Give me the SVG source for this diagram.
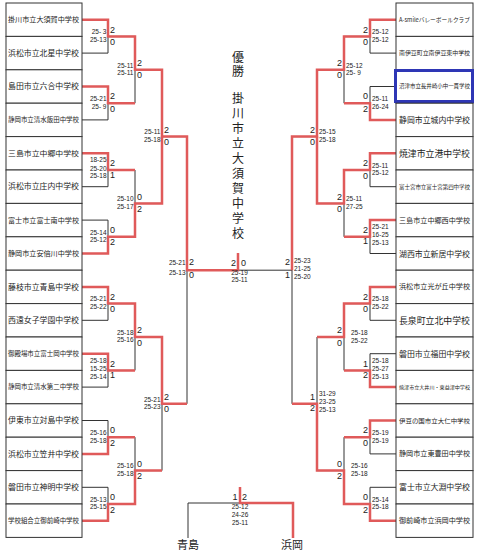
<svg xmlns="http://www.w3.org/2000/svg" width="480" height="554" viewBox="0 0 480 554">
<style>
.box{fill:#fff;stroke:#333;stroke-width:1}
.bl{fill:none;stroke:#333;stroke-width:1}
.rd{fill:none;stroke:#e05a5a;stroke-width:2.5;stroke-linejoin:miter}
.nm{font-family:"Noto Sans CJK JP",sans-serif;fill:#222}
.sc{font-family:"Liberation Sans",sans-serif;font-size:6.5px;fill:#222}
.scr{font-family:"Liberation Sans",sans-serif;font-size:6.5px;fill:#222;text-anchor:end}
.dg{font-family:"Liberation Sans",sans-serif;font-size:9px;fill:#222}
.dgr{font-family:"Liberation Sans",sans-serif;font-size:9px;fill:#222;text-anchor:end}
.ttl{font-family:"Noto Sans CJK JP",sans-serif;font-size:12px;fill:#222;writing-mode:vertical-rl;text-anchor:start}
.lab{font-family:"Noto Sans CJK JP",sans-serif;font-size:11px;fill:#222;text-anchor:middle}
.mid{text-anchor:middle}
</style>
<rect width="480" height="554" fill="#fff"/>
<g id="connectors">
<path class="bl" d="M82,19.7H108V53.1H82M82,86.5H108V119.9H82M82,153.3H108V186.7H82M82,220.1H108V253.5H82M82,286.9H108V320.3H82M82,353.7H108V387.1H82M82,420.5H108V453.9H82M82,487.3H108V520.7H82"/>
<path class="bl" d="M108,36.4H135V103.2H108M108,170H135V236.8H108M108,303.6H135V370.4H108M108,437.2H135V504H108"/>
<path class="bl" d="M135,69.8H162V203.4H135M135,337H162V470.6H135M162,136.6H187V403.8H162M187,270.2H292"/>
<path class="bl" d="M396,19.7H370V53.1H396M396,86.5H370V119.9H396M396,153.3H370V186.7H396M396,220.1H370V253.5H396M396,286.9H370V320.3H396M396,353.7H370V387.1H396M396,420.5H370V453.9H396M396,487.3H370V520.7H396"/>
<path class="bl" d="M370,36.4H344V103.2H370M370,170H344V236.8H370M370,303.6H344V370.4H370M370,437.2H344V504H370"/>
<path class="bl" d="M344,69.8H317V203.4H344M344,337H317V470.6H344M317,136.6H292V403.8H317"/>
<path class="bl" d="M188,538V503H293V538"/>
<path class="rd" d="M82,19.7H108V36.4H135V69.8H162V136.6H187V270.2H238V253"/>
<path class="rd" d="M82,86.5H108V103.2H135"/>
<path class="rd" d="M82,153.3H108V170H135"/>
<path class="rd" d="M82,253.5H108V236.8H135V203.4H162V136.6"/>
<path class="rd" d="M82,286.9H108V303.6H135V337H162V403.8H187"/>
<path class="rd" d="M82,353.7H108V370.4H135"/>
<path class="rd" d="M82,453.9H108V437.2H135"/>
<path class="rd" d="M82,520.7H108V504H135V470.6H162"/>
<path class="rd" d="M396,19.7H370V36.4H344V69.8H317V136.6H292V270.2"/>
<path class="rd" d="M396,119.9H370V103.2H344"/>
<path class="rd" d="M396,153.3H370V170H344V203.4H317V136.6"/>
<path class="rd" d="M396,220.1H370V236.8H344"/>
<path class="rd" d="M396,286.9H370V303.6H344V337H317"/>
<path class="rd" d="M396,387.1H370V370.4H344"/>
<path class="rd" d="M396,420.5H370V437.2H344"/>
<path class="rd" d="M396,520.7H370V504H344V470.6H317V403.8H292"/>
<path class="rd" d="M240,487V503H293V538"/>
</g>
<g id="title">
<text class="ttl" x="238" y="51" letter-spacing="2">優勝</text>
<text class="ttl" x="238" y="92" letter-spacing="3">掛川市立大須賀中学校</text>
</g>
<g id="left-teams">
<g id="L1"><rect class="box" x="6" y="3" width="76" height="33.4"/><text class="nm" x="8" y="22.2" font-size="7" textLength="71" lengthAdjust="spacingAndGlyphs">掛川市立大須賀中学校</text></g>
<g id="L2"><rect class="box" x="6" y="36.4" width="76" height="33.4"/><text class="nm" x="8" y="55.8" font-size="7.5" textLength="71" lengthAdjust="spacingAndGlyphs">浜松市立北星中学校</text></g>
<g id="L3"><rect class="box" x="6" y="69.8" width="76" height="33.4"/><text class="nm" x="8" y="89.2" font-size="7.5" textLength="71" lengthAdjust="spacingAndGlyphs">島田市立六合中学校</text></g>
<g id="L4"><rect class="box" x="6" y="103.2" width="76" height="33.4"/><text class="nm" x="8" y="122.2" font-size="6.3" textLength="71" lengthAdjust="spacingAndGlyphs">静岡市立清水飯田中学校</text></g>
<g id="L5"><rect class="box" x="6" y="136.6" width="76" height="33.4"/><text class="nm" x="8" y="155.9" font-size="7.2" textLength="71" lengthAdjust="spacingAndGlyphs">三島市立中郷中学校</text></g>
<g id="L6"><rect class="box" x="6" y="170" width="76" height="33.4"/><text class="nm" x="8" y="189.4" font-size="7.5" textLength="71" lengthAdjust="spacingAndGlyphs">浜松市立庄内中学校</text></g>
<g id="L7"><rect class="box" x="6" y="203.4" width="76" height="33.4"/><text class="nm" x="8" y="222.6" font-size="6.8" textLength="71" lengthAdjust="spacingAndGlyphs">富士市立富士南中学校</text></g>
<g id="L8"><rect class="box" x="6" y="236.8" width="76" height="33.4"/><text class="nm" x="8" y="256" font-size="7" textLength="71" lengthAdjust="spacingAndGlyphs">静岡市立安倍川中学校</text></g>
<g id="L9"><rect class="box" x="6" y="270.2" width="76" height="33.4"/><text class="nm" x="8" y="289.6" font-size="7.5" textLength="71" lengthAdjust="spacingAndGlyphs">藤枝市立青島中学校</text></g>
<g id="L10"><rect class="box" x="6" y="303.6" width="76" height="33.4"/><text class="nm" x="8" y="323.2" font-size="8" textLength="71" lengthAdjust="spacingAndGlyphs">西遠女子学園中学校</text></g>
<g id="L11"><rect class="box" x="6" y="337" width="76" height="33.4"/><text class="nm" x="8" y="356" font-size="6.3" textLength="71" lengthAdjust="spacingAndGlyphs">御殿場市立富士岡中学校</text></g>
<g id="L12"><rect class="box" x="6" y="370.4" width="76" height="33.4"/><text class="nm" x="8" y="389.4" font-size="6.3" textLength="71" lengthAdjust="spacingAndGlyphs">静岡市立清水第二中学校</text></g>
<g id="L13"><rect class="box" x="6" y="403.8" width="76" height="33.4"/><text class="nm" x="8" y="423.2" font-size="7.5" textLength="71" lengthAdjust="spacingAndGlyphs">伊東市立対島中学校</text></g>
<g id="L14"><rect class="box" x="6" y="437.2" width="76" height="33.4"/><text class="nm" x="8" y="456.6" font-size="7.5" textLength="71" lengthAdjust="spacingAndGlyphs">浜松市立笠井中学校</text></g>
<g id="L15"><rect class="box" x="6" y="470.6" width="76" height="33.4"/><text class="nm" x="8" y="490" font-size="7.5" textLength="71" lengthAdjust="spacingAndGlyphs">磐田市立神明中学校</text></g>
<g id="L16"><rect class="box" x="6" y="504" width="76" height="33.4"/><text class="nm" x="8" y="523" font-size="6.3" textLength="71" lengthAdjust="spacingAndGlyphs">学校組合立御前崎中学校</text></g>
</g>
<g id="right-teams">
<g id="R1"><rect class="box" x="396" y="3" width="77" height="33.4"/><text class="nm" x="399" y="21.9" font-size="6" textLength="71" lengthAdjust="spacingAndGlyphs">A-smileバレーボールクラブ</text></g>
<g id="R2"><rect class="box" x="396" y="36.4" width="77" height="33.4"/><text class="nm" x="399" y="55.1" font-size="5.6" textLength="71" lengthAdjust="spacingAndGlyphs">南伊豆町立南伊豆東中学校</text></g>
<g id="R3"><rect class="box" x="396" y="69.8" width="77" height="33.4"/><rect x="395.5" y="70.5" width="77" height="31" fill="none" stroke="#2e36b5" stroke-width="3"/><text class="nm" x="399" y="88.4" font-size="5.4" textLength="71" lengthAdjust="spacingAndGlyphs">沼津市立長井崎小中一貫学校</text></g>
<g id="R4"><rect class="box" x="396" y="103.2" width="77" height="33.4"/><text class="nm" x="399" y="123" font-size="8.5" textLength="71" lengthAdjust="spacingAndGlyphs">静岡市立城内中学校</text></g>
<g id="R5"><rect class="box" x="396" y="136.6" width="77" height="33.4"/><text class="nm" x="399" y="156.5" font-size="9" textLength="71" lengthAdjust="spacingAndGlyphs">焼津市立港中学校</text></g>
<g id="R6"><rect class="box" x="396" y="170" width="77" height="33.4"/><text class="nm" x="399" y="188.6" font-size="5.2" textLength="71" lengthAdjust="spacingAndGlyphs">富士宮市立富士宮第四中学校</text></g>
<g id="R7"><rect class="box" x="396" y="203.4" width="77" height="33.4"/><text class="nm" x="399" y="222.6" font-size="6.8" textLength="71" lengthAdjust="spacingAndGlyphs">三島市立中郷西中学校</text></g>
<g id="R8"><rect class="box" x="396" y="236.8" width="77" height="33.4"/><text class="nm" x="399" y="256.6" font-size="8.5" textLength="71" lengthAdjust="spacingAndGlyphs">湖西市立新居中学校</text></g>
<g id="R9"><rect class="box" x="396" y="270.2" width="77" height="33.4"/><text class="nm" x="399" y="289.4" font-size="6.8" textLength="71" lengthAdjust="spacingAndGlyphs">浜松市立光が丘中学校</text></g>
<g id="R10"><rect class="box" x="396" y="303.6" width="77" height="33.4"/><text class="nm" x="399" y="323.5" font-size="9" textLength="71" lengthAdjust="spacingAndGlyphs">長泉町立北中学校</text></g>
<g id="R11"><rect class="box" x="396" y="337" width="77" height="33.4"/><text class="nm" x="399" y="356.6" font-size="8" textLength="71" lengthAdjust="spacingAndGlyphs">磐田市立福田中学校</text></g>
<g id="R12"><rect class="box" x="396" y="370.4" width="77" height="33.4"/><text class="nm" x="399" y="388.9" font-size="5" textLength="71" lengthAdjust="spacingAndGlyphs">焼津市立大井川・東益津中学校</text></g>
<g id="R13"><rect class="box" x="396" y="403.8" width="77" height="33.4"/><text class="nm" x="399" y="422.7" font-size="6.2" textLength="71" lengthAdjust="spacingAndGlyphs">伊豆の国市立大仁中学校</text></g>
<g id="R14"><rect class="box" x="396" y="437.2" width="77" height="33.4"/><text class="nm" x="399" y="456.4" font-size="7" textLength="71" lengthAdjust="spacingAndGlyphs">静岡市立東豊田中学校</text></g>
<g id="R15"><rect class="box" x="396" y="470.6" width="77" height="33.4"/><text class="nm" x="399" y="490.2" font-size="8" textLength="71" lengthAdjust="spacingAndGlyphs">富士市立大淵中学校</text></g>
<g id="R16"><rect class="box" x="396" y="504" width="77" height="33.4"/><text class="nm" x="399" y="523.2" font-size="7" textLength="71" lengthAdjust="spacingAndGlyphs">御前崎市立浜岡中学校</text></g>
</g>
<g id="left-scores">
<text class="scr" x="106.5" y="34.1">25- 3</text><text class="scr" x="106.5" y="41.7">25-13</text><text class="dg" x="110" y="32.6">2</text><text class="dg" x="110" y="44.9">0</text>
<text class="scr" x="106.5" y="100.9">25-21</text><text class="scr" x="106.5" y="108.5">25- 9</text><text class="dg" x="110" y="99.4">2</text><text class="dg" x="110" y="111.7">0</text>
<text class="scr" x="106.5" y="162.4">18-25</text><text class="scr" x="106.5" y="170.6">25-20</text><text class="scr" x="106.5" y="178.4">25-18</text><text class="dg" x="110" y="166.4">2</text><text class="dg" x="110" y="177.6">1</text>
<text class="scr" x="106.5" y="234.5">25-14</text><text class="scr" x="106.5" y="242.1">25-12</text><text class="dg" x="110" y="233">0</text><text class="dg" x="110" y="245.3">2</text>
<text class="scr" x="106.5" y="301.3">25-21</text><text class="scr" x="106.5" y="308.9">25-22</text><text class="dg" x="110" y="299.8">2</text><text class="dg" x="110" y="312.1">0</text>
<text class="scr" x="106.5" y="362.8">25-18</text><text class="scr" x="106.5" y="371">15-25</text><text class="scr" x="106.5" y="378.8">25-14</text><text class="dg" x="110" y="366.8">2</text><text class="dg" x="110" y="378">1</text>
<text class="scr" x="106.5" y="434.9">25-16</text><text class="scr" x="106.5" y="442.5">25-18</text><text class="dg" x="110" y="433.4">0</text><text class="dg" x="110" y="445.7">2</text>
<text class="scr" x="106.5" y="501.7">25-13</text><text class="scr" x="106.5" y="509.3">25-15</text><text class="dg" x="110" y="500.2">0</text><text class="dg" x="110" y="512.5">2</text>
<text class="scr" x="133.5" y="67.5">25-11</text><text class="scr" x="133.5" y="75.1">25-11</text><text class="dg" x="137" y="66">2</text><text class="dg" x="137" y="78.3">0</text>
<text class="scr" x="133.5" y="201.1">25-10</text><text class="scr" x="133.5" y="208.7">25-17</text><text class="dg" x="137" y="199.6">0</text><text class="dg" x="137" y="211.9">2</text>
<text class="scr" x="133.5" y="334.7">25-18</text><text class="scr" x="133.5" y="342.3">25-16</text><text class="dg" x="137" y="333.2">2</text><text class="dg" x="137" y="345.5">0</text>
<text class="scr" x="133.5" y="468.3">25-16</text><text class="scr" x="133.5" y="475.9">25-18</text><text class="dg" x="137" y="466.8">0</text><text class="dg" x="137" y="479.1">2</text>
<text class="scr" x="160.5" y="134.3">25-11</text><text class="scr" x="160.5" y="141.9">25-18</text><text class="dg" x="164" y="132.8">2</text><text class="dg" x="164" y="145.1">0</text>
<text class="scr" x="160.5" y="401.5">25-21</text><text class="scr" x="160.5" y="409.1">25-23</text><text class="dg" x="164" y="400">2</text><text class="dg" x="164" y="412.3">0</text>
<text class="scr" x="185.5" y="265.4">25-21</text><text class="scr" x="185.5" y="275.4">25-13</text><text class="dg" x="189" y="265.2">2</text><text class="dg" x="189" y="277.6">0</text>
</g>
<g id="right-scores">
<text class="sc" x="372" y="34.1">25-12</text><text class="sc" x="372" y="41.7">25-12</text><text class="dgr" x="368" y="32.6">2</text><text class="dgr" x="368" y="44.9">0</text>
<text class="sc" x="372" y="100.9">25-11</text><text class="sc" x="372" y="108.5">26-24</text><text class="dgr" x="368" y="99.4">0</text><text class="dgr" x="368" y="111.7">2</text>
<text class="sc" x="372" y="167.7">25-11</text><text class="sc" x="372" y="175.3">25-12</text><text class="dgr" x="368" y="166.2">2</text><text class="dgr" x="368" y="178.5">0</text>
<text class="sc" x="372" y="229.2">25-21</text><text class="sc" x="372" y="237.4">16-25</text><text class="sc" x="372" y="245.2">25-13</text><text class="dgr" x="368" y="233.2">2</text><text class="dgr" x="368" y="244.4">1</text>
<text class="sc" x="372" y="301.3">25-18</text><text class="sc" x="372" y="308.9">25-22</text><text class="dgr" x="368" y="299.8">2</text><text class="dgr" x="368" y="312.1">0</text>
<text class="sc" x="372" y="362.8">25-18</text><text class="sc" x="372" y="371">25-27</text><text class="sc" x="372" y="378.8">25-13</text><text class="dgr" x="368" y="366.8">1</text><text class="dgr" x="368" y="378">2</text>
<text class="sc" x="372" y="434.9">25-19</text><text class="sc" x="372" y="442.5">25-19</text><text class="dgr" x="368" y="433.4">2</text><text class="dgr" x="368" y="445.7">0</text>
<text class="sc" x="372" y="501.7">25-14</text><text class="sc" x="372" y="509.3">25-18</text><text class="dgr" x="368" y="500.2">0</text><text class="dgr" x="368" y="512.5">2</text>
<text class="sc" x="346" y="67.5">25-12</text><text class="sc" x="346" y="75.1">25- 9</text><text class="dgr" x="342" y="66">2</text><text class="dgr" x="342" y="78.3">0</text>
<text class="sc" x="346" y="201.1">25-11</text><text class="sc" x="346" y="208.7">27-25</text><text class="dgr" x="342" y="199.6">2</text><text class="dgr" x="342" y="211.9">0</text>
<text class="sc" x="351" y="334.7">25-18</text><text class="sc" x="351" y="343.3">25-22</text><text class="dgr" x="342" y="333.2">2</text><text class="dgr" x="342" y="345.5">0</text>
<text class="sc" x="351" y="468.3">25-16</text><text class="sc" x="351" y="475.9">25-18</text><text class="dgr" x="342" y="466.8">0</text><text class="dgr" x="342" y="479.1">2</text>
<text class="sc" x="319" y="134.3">25-15</text><text class="sc" x="319" y="141.9">25-18</text><text class="dgr" x="315" y="132.8">2</text><text class="dgr" x="315" y="145.1">0</text>
<text class="sc" x="319" y="396.2">31-29</text><text class="sc" x="319" y="404.4">23-25</text><text class="sc" x="319" y="412.2">25-13</text><text class="dgr" x="315" y="400.2">1</text><text class="dgr" x="315" y="411.4">2</text>
<text class="sc" x="294" y="263.4">25-23</text><text class="sc" x="294" y="271.4">21-25</text><text class="sc" x="294" y="279.4">25-20</text><text class="dgr" x="290" y="265.2">2</text><text class="dgr" x="290" y="278.2">1</text>
</g>
<g id="final-scores">
<text class="dg mid" x="233.5" y="265.9">2</text><text class="dg mid" x="243.5" y="265.9">0</text>
<text class="sc mid" x="239.5" y="275">25-19</text><text class="sc mid" x="239.5" y="282.4">25-11</text>
</g>
<g id="third-place">
<text class="dg mid" x="235" y="500.2">1</text><text class="dg mid" x="244.5" y="500.2">2</text>
<text class="sc mid" x="240" y="509.3">25-12</text><text class="sc mid" x="240" y="517.3">24-26</text><text class="sc mid" x="240" y="525.3">25-11</text>
<text class="lab" x="188" y="549">青島</text>
<text class="lab" x="292" y="549">浜岡</text>
</g>
</svg>
